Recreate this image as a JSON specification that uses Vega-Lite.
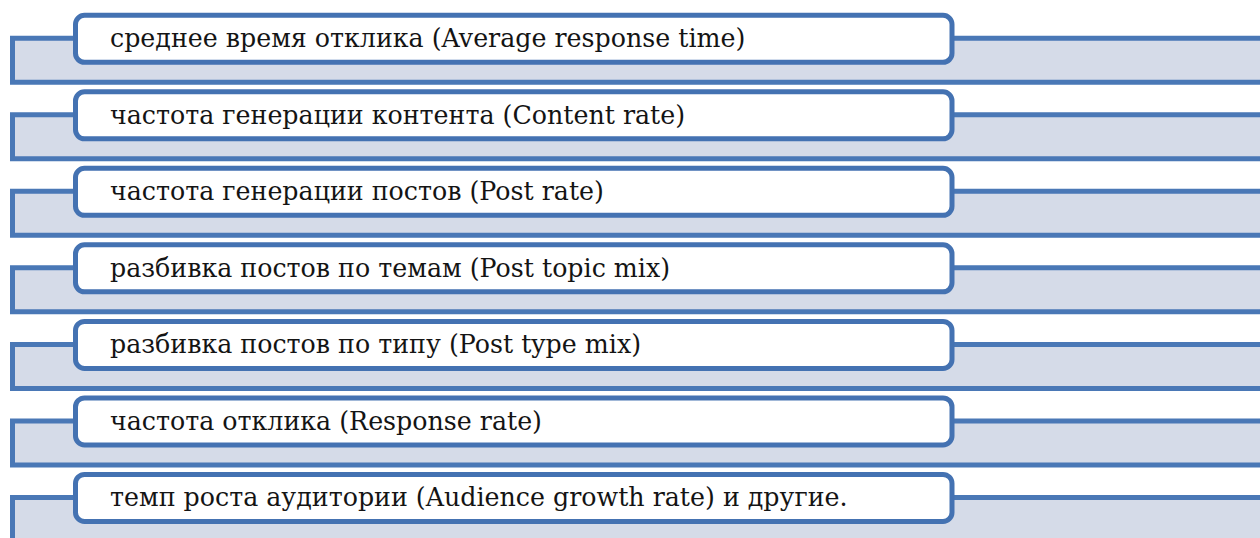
{
  "$schema": "https://vega.github.io/schema/vega-lite/v6.json",
  "width": 1260,
  "height": 538,
  "padding": 0,
  "autosize": {"type": "fit", "contains": "padding"},
  "background": "white",
  "config": {"view": {"stroke": null}},
  "data": {
    "values": [
      {"row": 1, "label": "среднее время отклика (Average response time)"},
      {"row": 2, "label": "частота генерации контента (Content rate)"},
      {"row": 3, "label": "частота генерации  постов (Post rate)"},
      {"row": 4, "label": "разбивка постов по темам (Post topic mix)"},
      {"row": 5, "label": "разбивка постов по типу  (Post type mix)"},
      {"row": 6, "label": "частота отклика (Response rate)"},
      {"row": 7, "label": "темп роста аудитории (Audience growth rate) и другие."}
    ]
  },
  "encoding": {
    "y": {"field": "row", "type": "quantitative", "scale": {"domain": [0.5, 7.53], "reverse": true, "nice": false, "zero": false}, "axis": null}
  },
  "layer": [
    {
      "mark": {"type": "rect", "fill": "#d5dbe8", "stroke": "#4a78b6", "strokeWidth": 5, "y2Offset": 44, "clip": true},
      "encoding": {
        "y2": {"field": "row"},
        "x": {"datum": 12.5, "type": "quantitative", "scale": {"domain": [0, 1260], "nice": false, "zero": false}, "axis": null},
        "x2": {"datum": 1275}
      }
    },
    {
      "mark": {"type": "rect", "fill": "white", "stroke": "#4472b2", "strokeWidth": 5, "cornerRadius": 9, "yOffset": -23, "y2Offset": 24},
      "encoding": {
        "y2": {"field": "row"},
        "x": {"datum": 75.5, "type": "quantitative"},
        "x2": {"datum": 952}
      }
    },
    {
      "mark": {"type": "text", "align": "left", "baseline": "middle", "font": "DejaVu Serif", "fontSize": 25.3, "color": "#141414", "yOffset": 1},
      "encoding": {
        "x": {"datum": 110, "type": "quantitative"},
        "text": {"field": "label"}
      }
    }
  ]
}
